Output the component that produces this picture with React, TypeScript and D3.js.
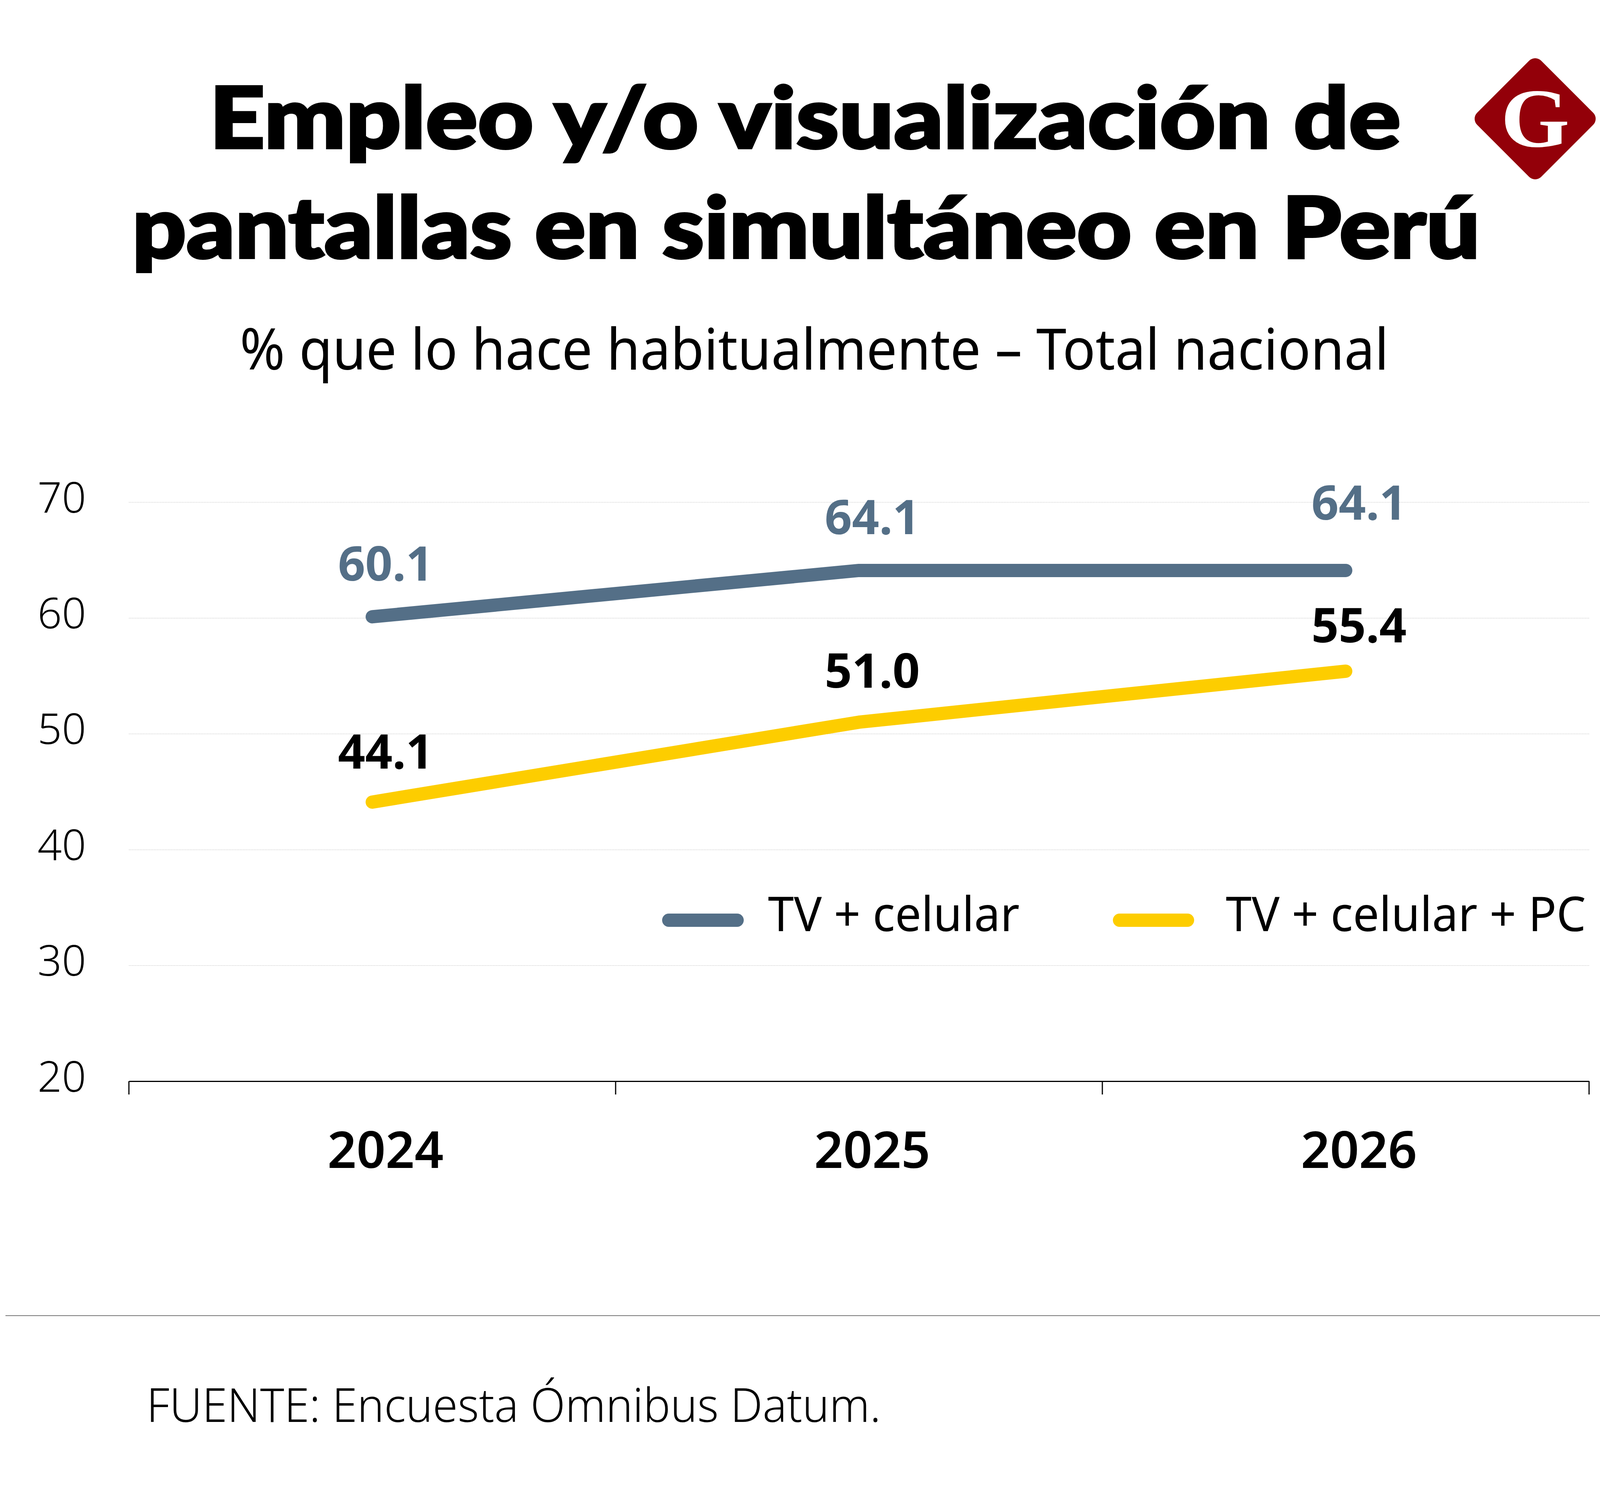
import * as d3 from 'd3';
import React, { useEffect, useRef } from 'react';

// Chart data
const years = ["2024", "2025", "2026"];
const tvCelular = [60.1, 64.1, 64.1];
const tvCelularPc = [44.1, 51.0, 55.4];
const valueLabelsTop = ["60.1", "64.1", "64.1"];
const valueLabelsBottom = ["44.1", "51.0", "55.4"];
const yTicks = [20, 30, 40, 50, 60, 70];
const seriesNames = ["TV + celular", "TV + celular + PC"];

// Layout
const WIDTH = 4150;
const HEIGHT = 3826;
const margin = { top: 1285, right: 82, bottom: 1059, left: 330 };
const topLabelDy = [-92, -93, -130];
const bottomLabelDy = [-86, -88, -74];

const BLUE = "#546f87";
const YELLOW = "#fdcd00";
const MAROON = "#930009";
const FONT = "'Noto Sans', sans-serif";
const TITLE_FONT = "Lato, sans-serif";

const App: React.FC = () => {
  const ref = useRef<SVGSVGElement>(null);

  useEffect(() => {
    if (!ref.current) return;
    d3.select(ref.current).selectAll("*").remove();

    const width = WIDTH - margin.left - margin.right;
    const height = HEIGHT - margin.top - margin.bottom;

    const svg = d3.select(ref.current)
      .attr("width", WIDTH)
      .attr("height", HEIGHT)
      .attr("viewBox", `0 0 ${WIDTH} ${HEIGHT}`)
      .style("position", "absolute")
      .style("top", 0)
      .style("left", 0)
      .style("background", "#fff");

    // Helper for fitted text
    const label = (txt: string, x: number, y: number, size: number, weight: number, len: number, family = FONT) =>
      svg.append("text")
        .attr("x", x)
        .attr("y", y)
        .attr("font-family", family)
        .attr("font-size", size)
        .attr("font-weight", weight)
        .attr("fill", "#000")
        .attr("textLength", len)
        .attr("lengthAdjust", "spacingAndGlyphs")
        .text(txt);

    // Titles, the stroke thickens Lato Black up to the original's weight
    label("Empleo y/o visualización de", 536, 379, 218, 900, 3050, TITLE_FONT)
      .attr("stroke", "#000").attr("stroke-width", 6);
    label("pantallas en simultáneo en Perú", 338, 660, 218, 900, 3451, TITLE_FONT)
      .attr("stroke", "#000").attr("stroke-width", 6);
    label("% que lo hace habitualmente – Total nacional", 614, 946, 146, 400, 2941);

    // Logo
    const logo = svg.append("g").attr("transform", "translate(3930,304)");
    logo.append("rect")
      .attr("x", -116).attr("y", -116)
      .attr("width", 232).attr("height", 232)
      .attr("rx", 22)
      .attr("transform", "rotate(45)")
      .attr("fill", MAROON);
    logo.append("text")
      .attr("y", 71)
      .attr("text-anchor", "middle")
      .attr("font-family", "'Liberation Serif', serif")
      .attr("font-weight", 700)
      .attr("font-size", 215)
      .attr("textLength", 176)
      .attr("lengthAdjust", "spacingAndGlyphs")
      .attr("fill", "#fff")
      .text("G");

    const g = svg.append("g")
      .attr("transform", `translate(${margin.left},${margin.top})`);

    // Scales
    const x = d3.scaleBand<string>().domain(years).range([0, width]);
    const y = d3.scaleLinear().domain([20, 70]).range([height, 0]);
    const cx = (d: string) => (x(d) as number) + x.bandwidth() / 2;

    // Y axis with gridlines
    const yAxis = g.append("g")
      .call(d3.axisLeft(y).tickValues(yTicks).tickSize(-width));
    yAxis.select(".domain").remove();
    yAxis.selectAll(".tick line")
      .attr("stroke", "#c9c9c9")
      .attr("stroke-width", 1.5)
      .attr("stroke-dasharray", "2 2");
    yAxis.selectAll(".tick text")
      .attr("x", 96 - margin.left)
      .attr("dy", 26)
      .attr("text-anchor", "start")
      .attr("font-family", FONT)
      .attr("font-size", 109)
      .attr("font-weight", 300)
      .attr("fill", "#000");
    yAxis.selectAll(".tick").filter(d => d === 20).select("line").remove();

    // X axis, ticks sit on the band edges
    const xAxis = g.append("g")
      .attr("transform", `translate(0,${height})`)
      .call(d3.axisBottom(x).tickSize(0));
    xAxis.select(".domain")
      .attr("stroke", "#000")
      .attr("stroke-width", 3);
    xAxis.selectAll(".tick text")
      .attr("x", 34)
      .attr("y", 222)
      .attr("dy", 0)
      .attr("font-family", FONT)
      .attr("font-size", 130)
      .attr("font-weight", 600)
      .attr("fill", "#000");
    xAxis.selectAll(".edge")
      .data([...years.map(d => x(d) as number), width])
      .enter().append("line")
      .attr("class", "edge")
      .attr("x1", d => d)
      .attr("x2", d => d)
      .attr("y1", 0)
      .attr("y2", 34)
      .attr("stroke", "#000")
      .attr("stroke-width", 3);

    // Lines
    const line = d3.line<number>()
      .x((_, i) => cx(years[i]))
      .y(d => y(d));

    [{ values: tvCelular, color: BLUE }, { values: tvCelularPc, color: YELLOW }].forEach(s => {
      g.append("path")
        .datum(s.values)
        .attr("d", line)
        .attr("fill", "none")
        .attr("stroke", s.color)
        .attr("stroke-width", 34)
        .attr("stroke-linecap", "round")
        .attr("stroke-linejoin", "round");
    });

    // Value labels
    const valueLabels = (vals: number[], txt: string[], dys: number[], color: string) => {
      g.selectAll(null)
        .data(vals)
        .enter().append("text")
        .attr("x", (_, i) => cx(years[i]) + 34)
        .attr("y", (d, i) => y(d) + dys[i])
        .attr("text-anchor", "middle")
        .attr("font-family", FONT)
        .attr("font-size", 122)
        .attr("font-weight", 700)
        .attr("fill", color)
        .text((_, i) => txt[i]);
    };
    valueLabels(tvCelular, valueLabelsTop, topLabelDy, BLUE);
    valueLabels(tvCelularPc, valueLabelsBottom, bottomLabelDy, "#000");

    // Legend
    const legend = [
      { name: seriesNames[0], color: BLUE, x1: 1712, x2: 1887, tx: 1966, len: 644 },
      { name: seriesNames[1], color: YELLOW, x1: 2866, x2: 3040, tx: 3138, len: 922 },
    ];
    legend.forEach(l => {
      svg.append("line")
        .attr("x1", l.x1).attr("x2", l.x2)
        .attr("y1", 2355).attr("y2", 2355)
        .attr("stroke", l.color)
        .attr("stroke-width", 34)
        .attr("stroke-linecap", "round");
      label(l.name, l.tx, 2383, 123, 400, l.len);
    });

    // Footer
    svg.append("line")
      .attr("x1", 14).attr("x2", WIDTH)
      .attr("y1", 3367).attr("y2", 3367)
      .attr("stroke", "#777")
      .attr("stroke-width", 2);
    label("FUENTE: Encuesta Ómnibus Datum.", 375, 3639, 120, 300, 1880);
  }, []);

  return <svg ref={ref}></svg>;
};

export default App;
